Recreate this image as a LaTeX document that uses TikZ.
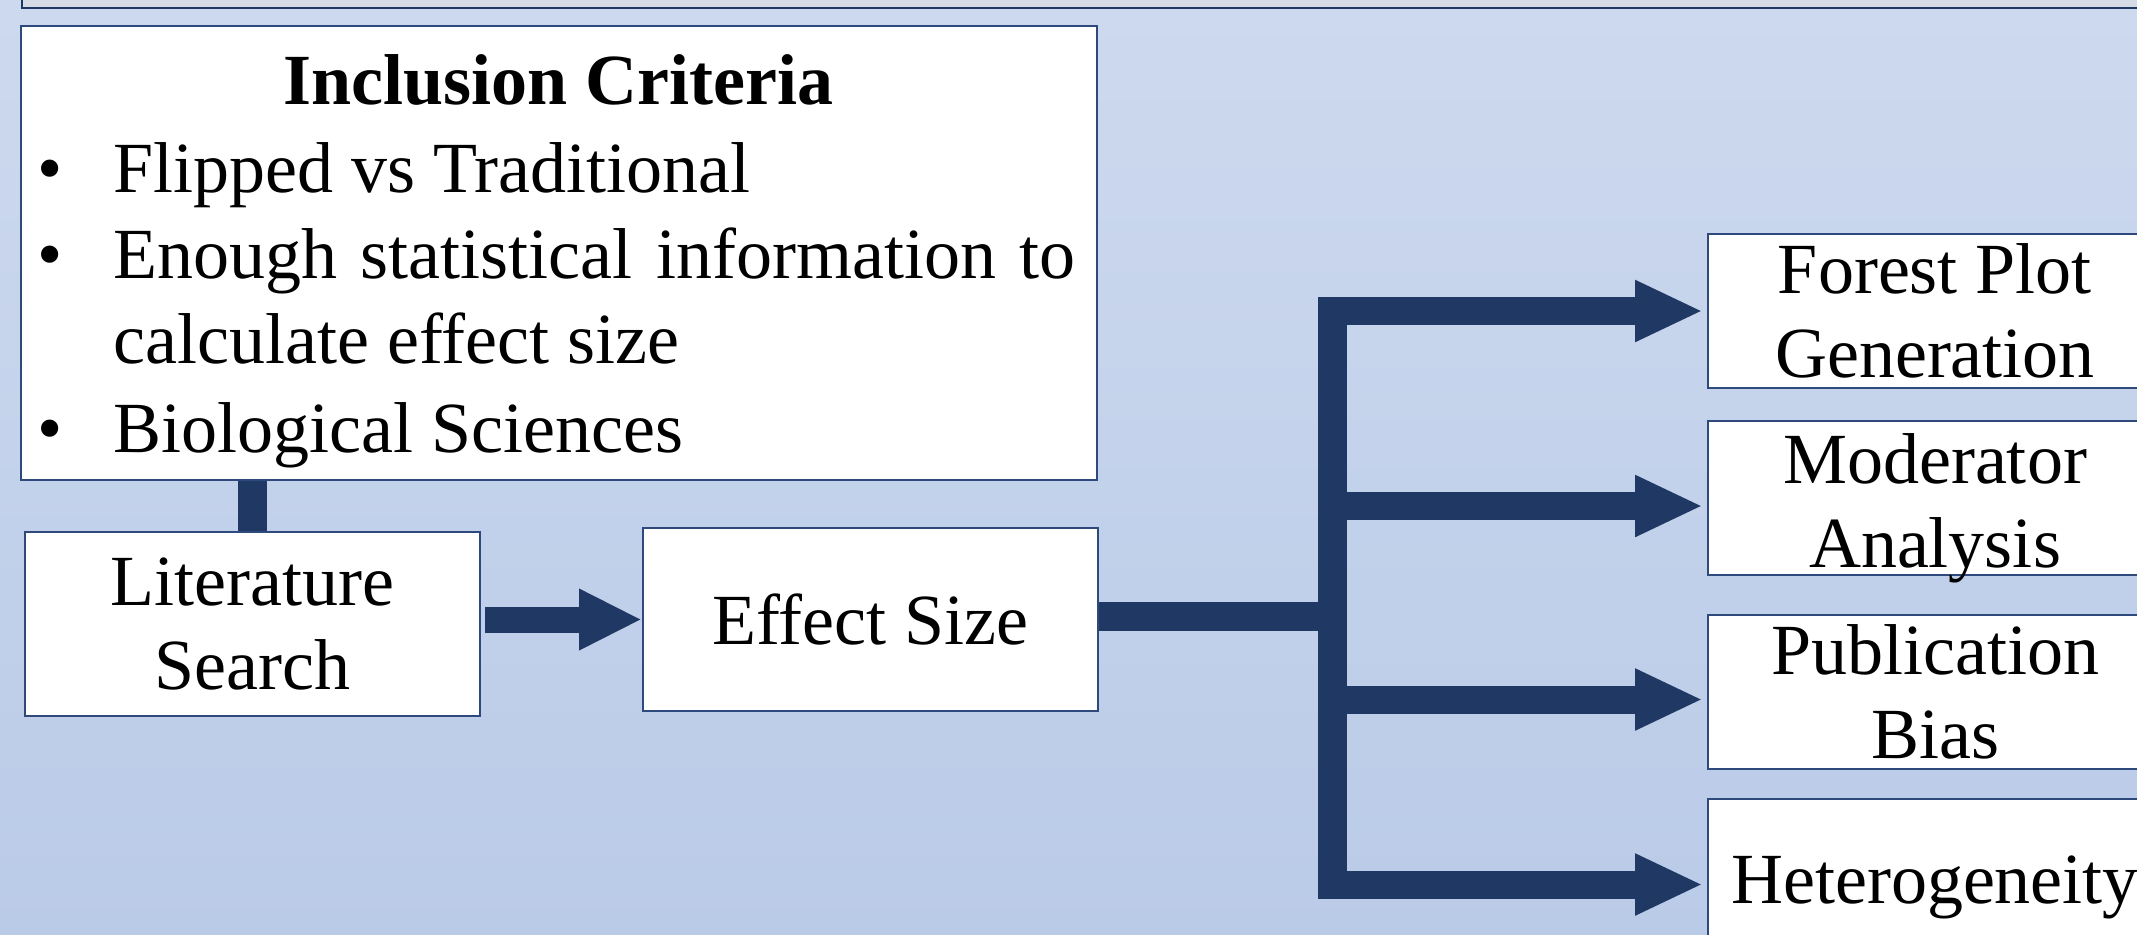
\documentclass[tikz,border=0pt]{standalone}
\usepackage{fontspec}
\setmainfont{Liberation Serif}
\usetikzlibrary{arrows.meta}
\definecolor{navy}{HTML}{203864}
\definecolor{boxline}{HTML}{2E4A7D}
\definecolor{bgtop}{HTML}{CDD9EE}
\definecolor{bgbot}{HTML}{BACBE8}
\definecolor{stripfill}{HTML}{D6DCE6}

\begin{document}
\begin{tikzpicture}[x=0.5pt,y=-0.5pt,
  box/.style={draw=boxline, line width=1pt, fill=white, inner sep=0pt,
    font=\fontsize{36}{42}\selectfont, align=center},
  txt/.style={inner sep=0pt, font=\fontsize{36}{42}\selectfont},
  bar/.style={draw=navy, line width=14.5pt},
  branch/.style={draw=navy, line width=14pt, shorten >=2pt,
    -{Triangle[length=34pt,width=28.5pt]}},
  step arrow/.style={draw=navy, line width=13pt, shorten <=2pt,
    -{Triangle[length=31.5pt,width=28.5pt]}}]

% page and background
\useasboundingbox (0,0) rectangle (2137,934);
\clip (0,0) rectangle (2137,934);
\fill[top color=bgtop, bottom color=bgbot] (0,0) rectangle (2137,934);

% banner strip along the top edge
\draw[draw=navy, line width=0.7pt, fill=stripfill] (22,-20) rectangle (2200,8);

% inclusion criteria panel
\node[box, minimum width=538pt, minimum height=227pt] (incl) at (559,253) {};
\node[txt, anchor=base, font=\fontsize{36}{42}\selectfont\bfseries] (title) at (558,104) {Inclusion Criteria};
\node[txt, anchor=base] (d1) at (50,192) {\textbullet};
\node[txt, anchor=base west] (c1) at (113,192) {Flipped vs Traditional};
\node[txt, anchor=base] (d2) at (50,278) {\textbullet};
\node[txt, anchor=base west] (c2) at (113,278) {\makebox[481pt][s]{Enough statistical information to}};
\node[txt, anchor=base west] (c2b) at (113,363) {calculate effect size};
\node[txt, anchor=base] (d3) at (50,452) {\textbullet};
\node[txt, anchor=base west] (c3) at (113,452) {Biological Sciences};

% main chain
\node[box, minimum width=227.5pt, minimum height=92pt] (lit) at (252.5,624) {Literature\\Search};
\node[box, minimum width=227.5pt, minimum height=91.5pt] (effect) at (870.5,619.5) {Effect Size};

% analysis boxes
\node[box, minimum width=227pt, minimum height=77pt] (forest) at (1935,311) {Forest Plot\\Generation};
\node[box, minimum width=227pt, minimum height=77pt] (moder) at (1935,498) {};
\node[txt, align=center] (modertext) at (1935,508) {Moderator\\Analysis};
\node[box, minimum width=227pt, minimum height=77pt] (pub) at (1935,692) {Publication\\Bias};
\node[box, minimum width=227pt, minimum height=88pt] (hetero) at (1935,887) {Heterogeneity};

% connectors
\draw[bar] (incl.south -| lit.north) -- (lit.north);
\draw[step arrow] (lit.east |- effect.west) -- (effect.west);

\coordinate (jtop) at (1332.5,297);
\coordinate (jbot) at (1332.5,899);
\coordinate (jmid) at (1332.5,616.5);
\coordinate (t1) at (1332.5,311);
\coordinate (t2) at (1332.5,506);
\coordinate (t3) at (1332.5,699.5);
\coordinate (t4) at (1332.5,884.5);

\draw[bar] (effect.east |- jmid) -- (jmid);
\draw[bar, line width=14.5pt] (jtop) -- (jbot);
\draw[branch] (t1) -- (t1 -| forest.west);
\draw[branch] (t2) -- (t2 -| moder.west);
\draw[branch] (t3) -- (t3 -| pub.west);
\draw[branch] (t4) -- (t4 -| hetero.west);
\end{tikzpicture}
\end{document}
